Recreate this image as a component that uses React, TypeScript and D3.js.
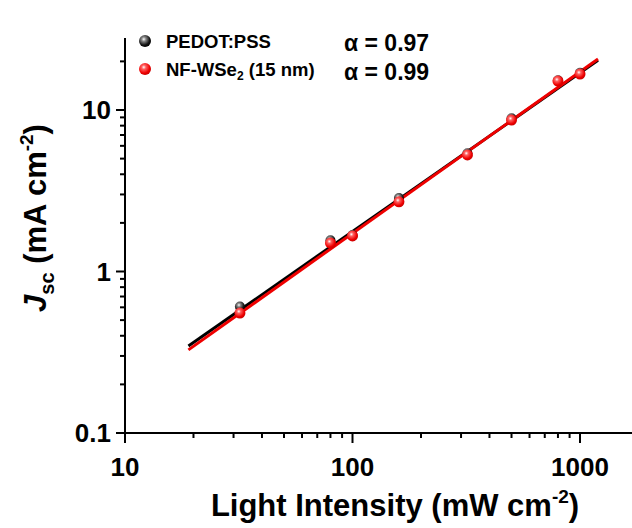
import React from "react";
import * as d3 from "d3";

const intensity = [32, 80, 100, 160, 320, 500, 800, 1000];
const jscPedot = [0.607, 1.56, 1.68, 2.85, 5.4, 8.9, 15.3, 17.0];
const jscWse2 = [0.553, 1.5, 1.66, 2.7, 5.27, 8.66, 15.1, 16.7];
const fitX = [19, 1200];
const fitPedot = [0.346, 20.3];
const fitWse2 = [0.327, 20.7];
const xTickValues = [10, 100, 1000];
const yTickValues = [0.1, 1, 10];
const seriesNames = ["PEDOT:PSS", "NF-WSe"];
const alphaLabels = ["α = 0.97", "α = 0.99"];

const W = 632;
const H = 528;
const FONT = "'Liberation Sans', Arial, sans-serif";

export default function App() {
  const x = d3.scaleLog().domain([10, 1000]).range([125, 580]);
  const y = d3.scaleLog().domain([0.1, 10]).range([433, 110]);
  const xMax = x.invert(640);
  const yMax = y.invert(38);

  const xMinor: number[] = [];
  for (const dec of [10, 100, 1000]) {
    for (let k = 2; k <= 9; k++) {
      const v = dec * k;
      if (v < xMax) xMinor.push(v);
    }
  }
  const yMinor: number[] = [];
  for (const dec of [0.1, 1, 10]) {
    for (let k = 2; k <= 9; k++) {
      const v = dec * k;
      if (v < yMax) yMinor.push(v);
    }
  }

  const line = d3
    .line<[number, number]>()
    .x((d) => x(d[0]))
    .y((d) => y(d[1]));

  const pedotPts = intensity.map((v, i) => [v, jscPedot[i]] as [number, number]);
  const wsePts = intensity.map((v, i) => [v, jscWse2[i]] as [number, number]);

  return (
    <svg
      width={W}
      height={H}
      style={{ position: "absolute", left: 0, top: 0, background: "#fff" }}
      fontFamily={FONT}
    >
      <defs>
        <radialGradient id="gBlack" cx="0.4" cy="0.35" r="0.7">
          <stop offset="0" stopColor="#ffffff" />
          <stop offset="0.25" stopColor="#888" />
          <stop offset="0.7" stopColor="#111" />
          <stop offset="1" stopColor="#000" />
        </radialGradient>
        <radialGradient id="gRed" cx="0.4" cy="0.35" r="0.7">
          <stop offset="0" stopColor="#ffffff" />
          <stop offset="0.25" stopColor="#ff6060" />
          <stop offset="0.7" stopColor="#ee0000" />
          <stop offset="1" stopColor="#c00000" />
        </radialGradient>
      </defs>
      <rect x={0} y={0} width={W} height={H} fill="#fff" />

      {/* axes */}
      <line x1={125} y1={38} x2={125} y2={433} stroke="#000" strokeWidth={2} />
      <line x1={124} y1={433} x2={640} y2={433} stroke="#000" strokeWidth={2} />

      {xTickValues.map((v) => (
        <g key={"xt" + v}>
          <line x1={x(v)} x2={x(v)} y1={433} y2={443} stroke="#000" strokeWidth={2} />
          <text x={x(v)} y={476} textAnchor="middle" fontSize={26} fontWeight="bold">
            {v}
          </text>
        </g>
      ))}
      {xMinor.map((v) => (
        <line key={"xm" + v} x1={x(v)} x2={x(v)} y1={433} y2={438} stroke="#000" strokeWidth={2} />
      ))}

      {yTickValues.map((v) => (
        <g key={"yt" + v}>
          <line x1={116} x2={125} y1={y(v)} y2={y(v)} stroke="#000" strokeWidth={2} />
          <text x={111} y={y(v) + 9} textAnchor="end" fontSize={26} fontWeight="bold">
            {v}
          </text>
        </g>
      ))}
      {yMinor.map((v) => (
        <line key={"ym" + v} x1={120} x2={125} y1={y(v)} y2={y(v)} stroke="#000" strokeWidth={2} />
      ))}

      {/* fit lines */}
      <path
        d={line(fitX.map((v, i) => [v, fitPedot[i]] as [number, number])) || ""}
        stroke="#000"
        strokeWidth={3}
        fill="none"
      />
      <path
        d={line(fitX.map((v, i) => [v, fitWse2[i]] as [number, number])) || ""}
        stroke="#ee0000"
        strokeWidth={3}
        fill="none"
      />

      {/* points */}
      {pedotPts.map((d, i) => (
        <circle key={"pb" + i} cx={x(d[0])} cy={y(d[1])} r={5} fill="url(#gBlack)" />
      ))}
      {wsePts.map((d, i) => (
        <circle key={"pr" + i} cx={x(d[0])} cy={y(d[1])} r={5.5} fill="url(#gRed)" />
      ))}

      {/* legend */}
      <circle cx={145} cy={41} r={6} fill="url(#gBlack)" />
      <text x={166} y={47.5} fontSize={18.5} fontWeight="bold">
        {seriesNames[0]}
      </text>
      <circle cx={145} cy={69} r={6} fill="url(#gRed)" />
      <text x={166} y={75.5} fontSize={18.5} fontWeight="bold">
        {seriesNames[1]}
        <tspan fontSize={12} dy={4}>2</tspan>
        <tspan dy={-4}> (15 nm)</tspan>
      </text>
      <text x={344} y={51} fontSize={23} fontWeight="bold">
        {alphaLabels[0]}
      </text>
      <text x={344} y={80} fontSize={23} fontWeight="bold">
        {alphaLabels[1]}
      </text>

      {/* axis titles */}
      <text x={395} y={516} textAnchor="middle" fontSize={31} fontWeight="bold">
        Light Intensity (mW cm
        <tspan fontSize={19} dy={-13}>-2</tspan>
        <tspan dy={13}>)</tspan>
      </text>
      <text
        transform="translate(46,218) rotate(-90)"
        textAnchor="middle"
        fontSize={31}
        fontWeight="bold"
      >
        <tspan fontStyle="italic">J</tspan>
        <tspan fontSize={20} dy={8}>sc</tspan>
        <tspan dy={-8}> (mA cm</tspan>
        <tspan fontSize={19} dy={-13}>-2</tspan>
        <tspan dy={13}>)</tspan>
      </text>
    </svg>
  );
}
